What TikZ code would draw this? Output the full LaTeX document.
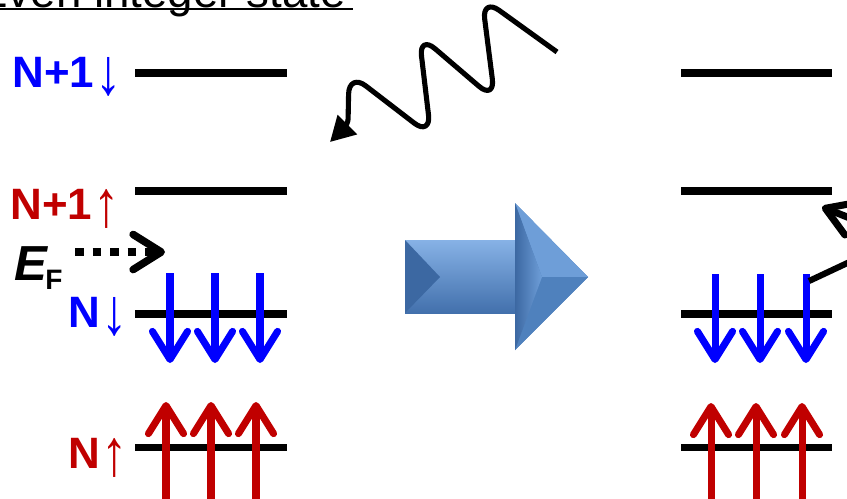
\documentclass[tikz,border=0pt]{standalone}
\usepackage{fontspec}
\usepackage{graphicx}
\setmainfont{Liberation Sans}
\usetikzlibrary{arrows.meta, positioning}
\definecolor{SpinBlue}{RGB}{0,0,255}
\definecolor{SpinRed}{RGB}{192,0,0}
\definecolor{ArrMid}{RGB}{79,129,189}
\definecolor{ArrLight}{RGB}{135,178,230}
\definecolor{ArrDark}{RGB}{66,112,172}
\definecolor{ArrFace}{RGB}{110,158,216}
\definecolor{ArrSide}{RGB}{60,104,162}
\newcommand{\spinmark}[1]{{\mdseries\kern1pt\raisebox{-4pt}{\scalebox{1.2}[1.5]{#1}}}}

\begin{document}
\begin{tikzpicture}[x=0.02cm, y=-0.02cm,
    level/.style={line width=4pt},
    lab/.style={font=\fontsize{25}{30}\selectfont\bfseries, inner sep=0pt,
                anchor=base west},
    barb/.style={-{Straight Barb[round, length=16pt, width=20pt]}},
    spinup/.style={barb, line width=4pt, draw=SpinRed},
    spindn/.style={barb, line width=4pt, draw=SpinBlue},
    photon/.style={line width=2.9pt, rounded corners=12pt, line join=round,
                   -{Triangle[length=14pt, width=15pt]}}
  ]
  \useasboundingbox (0,0) rectangle (847,498);
  \clip (0,0) rectangle (847,498);

  % Title (cut at the top edge)
  \node[font=\fontsize{26}{30}\selectfont, inner sep=0pt, anchor=base east]
        (title) at (346,7) {Even integer state};
  \draw[line width=1.1pt] ([yshift=-1.4pt]title.base west)
        -- ([xshift=4pt, yshift=-1.4pt]title.base east);

  % Levels, left and right
  \foreach \y/\n in {73/a, 191/b, 314/c, 447/d} {
    \coordinate (L\n) at (135,\y);
    \coordinate (R\n) at (681,\y);
    \draw[level] (L\n) -- ++(152,0);
    \draw[level] (R\n) -- ++(151,0);
  }

  % Level labels
  \node[lab, text=SpinBlue] (labNa) at (12,87)  {N+1\spinmark{↓}};
  \node[lab, text=SpinRed]  (labNb) at (10,219) {N+1\spinmark{↑}};
  \node[lab, text=SpinBlue] (labNc) at (68,327) {N\spinmark{↓}};
  \node[lab, text=SpinRed]  (labNd) at (68,468) {N\spinmark{↑}};

  % Fermi level
  \node[font=\fontsize{28}{30}\selectfont\bfseries\itshape, inner sep=0pt,
        anchor=base west] (ef) at (14,280)
        {E\kern-1pt\raisebox{-5.5pt}{\upshape\fontsize{16}{16}\selectfont F}};
  \coordinate (efS) at (75,252);
  \coordinate (efT) at (165,252);
  \draw[barb, line width=4.3pt, dash pattern=on 5pt off 5pt] (efS) -- (efT);

  % Spins, left
  \foreach \x in {170,215,260}
    \draw[spindn] (\x,273) -- (\x,363);
  \foreach \x in {166,211,256}
    \draw[spinup] (\x,505) -- (\x,402);

  % Spins, right
  \foreach \x in {715,760,806}
    \draw[spindn] (\x,274) -- (\x,363);
  \foreach \x in {711,756,802}
    \draw[spinup] (\x,505) -- (\x,403);

  % Photon
  \coordinate (phS) at (557,52);
  \coordinate (phT) at (330,142);
  \draw[photon] (phS) -- (482,-2) -- (495,100) -- (419,35) -- (431,136)
        -- (349,73) [rounded corners=3pt] -- (348,124) -- (phT);

  % Transition on the right (runs off the edge)
  \coordinate (trS) at (809,281);
  \draw[line width=3.5pt] (trS) -- (890,243);
  \coordinate (emT) at (822,207);
  \draw[barb, line width=4pt] (885,232) -- (emT);

  % Big blue arrow
  \fill[ArrMid] (405,240) -- (515,240) -- (515,203) -- (588,277)
        -- (515,350) -- (515,313) -- (405,313) -- cycle;
  \shade[top color=ArrLight, bottom color=ArrDark]
        (405,240) rectangle (516,313);
  \fill[ArrSide] (405,240) -- (440,277) -- (405,313) -- cycle;
  \fill[ArrFace] (515,203) -- (588,277) -- (542,277) -- cycle;
  \fill[ArrMid]  (515,350) -- (588,277) -- (542,277) -- cycle;
  \shade[left color=ArrSide, right color=ArrFace]
        (515,203) -- (542,277) -- (515,350) -- cycle;
\end{tikzpicture}
\end{document}
